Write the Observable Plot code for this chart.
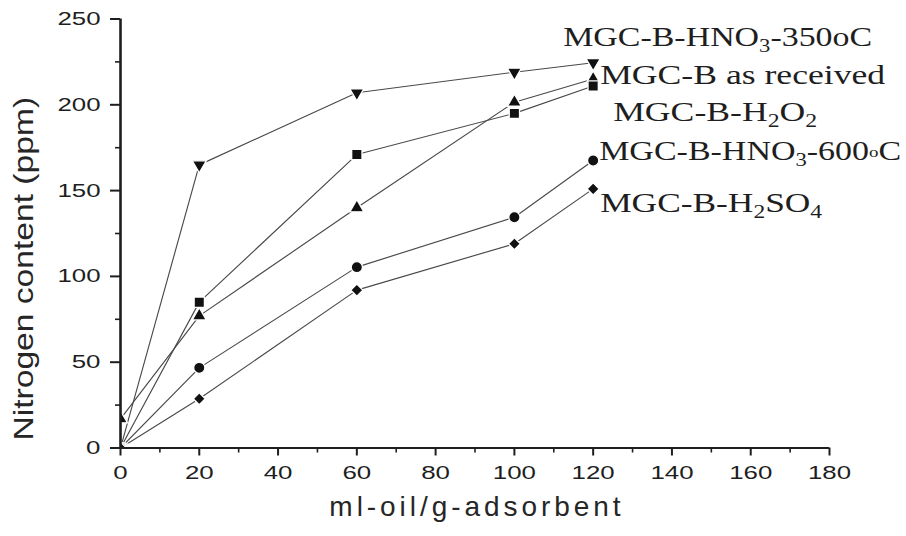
<!DOCTYPE html>
<html>
<head>
<meta charset="utf-8">
<script src="https://cdn.jsdelivr.net/npm/d3@7"></script>
<script src="https://cdn.jsdelivr.net/npm/@observablehq/plot@0.6"></script>
<style>
  html, body { margin: 0; padding: 0; background: #fff; }
  #chart { width: 906px; height: 536px; }
</style>
</head>
<body>
<div id="chart"></div>
<script>
// Nitrogen uptake versus oil loading for the MGC-B adsorbents
const xValues = [0, 20, 60, 100, 120];
const seriesNames = [
  "MGC-B-HNO₃-350oC",
  "MGC-B as received",
  "MGC-B-H₂O₂",
  "MGC-B-HNO₃-600∘C",
  "MGC-B-H₂SO₄"
];
const hno3_350 = [0, 165, 207, 219, 224.5];
const asReceived = [17, 77, 140, 201.5, 215];
const h2o2 = [0, 85, 171, 195, 211];
const hno3_600 = [0, 46.7, 105.4, 134.5, 167.5];
const h2so4 = [0, 28.7, 92, 119, 151];

const xTicks = [0, 20, 40, 60, 80, 100, 120, 140, 160, 180];
const xMinorTicks = [10, 30, 50, 70, 90, 110, 130, 150, 170];
const yTicks = [0, 50, 100, 150, 200, 250];
const yMinorTicks = [25, 75, 125, 175, 225];

const xTitle = "ml-oil/g-adsorbent";
const yTitle = "Nitrogen content (ppm)";

// Styling: marker shapes, label placement (pixel offsets from each series' last point) and label widths
const markerStyles = [
  {symbol: "triangle", rotate: 180, r: 5.2},
  {symbol: "triangle", rotate: 0, r: 5.2},
  {symbol: "square", rotate: 0, r: 5.8},
  {symbol: "circle", rotate: 0, r: 5.6},
  {symbol: "diamond2", rotate: 0, r: 5.4}
];
const labelStyles = [
  {dx: -30, dy: -25, width: 309},
  {dx: 7, dy: -4, width: 285},
  {dx: 20, dy: 26, width: 204},
  {dx: 6, dy: -9, width: 302},
  {dx: 7, dy: 14, width: 222}
];

const seriesValues = [hno3_350, asReceived, h2o2, hno3_600, h2so4];
const rows = seriesValues.flatMap((vals, i) =>
  xValues.map((x, j) => ({series: seriesNames[i], x, y: vals[j]}))
);
const ink = "#1e1e1e";

const marks = [
  Plot.line(rows, {x: "x", y: "y", z: "series", stroke: "#4a4a4a", strokeWidth: 1.15, clip: true}),
  ...seriesNames.map((name, i) =>
    Plot.dot(rows.filter(d => d.series === name), {
      x: "x", y: "y",
      symbol: markerStyles[i].symbol,
      rotate: markerStyles[i].rotate,
      r: markerStyles[i].r,
      fill: "#111", stroke: "#fff", strokeWidth: 1.3,
      clip: true
    })
  ),
  // minor ticks
  Plot.axisX(xMinorTicks, {tickSize: 5, strokeWidth: 1.6, stroke: ink, fill: "none", label: null}),
  Plot.axisY(yMinorTicks, {tickSize: 5, strokeWidth: 1.6, stroke: ink, fill: "none", label: null}),
  // major ticks with labels
  Plot.axisX(xTicks, {
    tickSize: 8, tickPadding: 9, strokeWidth: 2, stroke: ink, fill: ink,
    fontSize: 19, fontFamily: "Liberation Sans", label: null
  }),
  Plot.axisY(yTicks, {
    tickSize: 10, tickPadding: 10, strokeWidth: 2, stroke: ink, fill: ink,
    fontSize: 19, fontFamily: "Liberation Sans", label: null
  }),
  // axis lines
  Plot.ruleY([0], {stroke: ink, strokeWidth: 2}),
  Plot.ruleX([0], {stroke: ink, strokeWidth: 2.6}),
  // series labels next to the last points
  ...seriesNames.map((name, i) =>
    Plot.text(rows.filter(d => d.series === name && d.x === xValues[xValues.length - 1]), {
      x: "x", y: "y", text: "series",
      textAnchor: "start",
      dx: labelStyles[i].dx, dy: labelStyles[i].dy,
      fontSize: 27, fontFamily: "Liberation Serif", fill: ink,
      ariaDescription: "series labels"
    })
  ),
  // axis titles
  Plot.text([xTitle], {
    frameAnchor: "bottom", dy: 68, fontSize: 28, fontFamily: "Liberation Sans",
    fill: "#262626", ariaDescription: "x title"
  }),
  Plot.text([yTitle], {
    frameAnchor: "left", rotate: -90, textAnchor: "start", dx: -96, dy: 207, fontSize: 28,
    fontFamily: "Liberation Sans", fill: "#262626", ariaDescription: "y title"
  })
];

const chart = Plot.plot({
  width: 906,
  height: 536,
  marginLeft: 120,
  marginRight: 77,
  marginTop: 18.5,
  marginBottom: 88.5,
  x: {domain: [0, 180]},
  y: {domain: [0, 250]},
  style: {background: "#fff", fontFamily: "Liberation Sans", overflow: "visible"},
  marks
});
document.getElementById("chart").append(chart);

// Chemical formulas: subscript digits become lowered, smaller tspans; the degree ring becomes a small "o"
const subMap = {"₀": "0", "₁": "1", "₂": "2", "₃": "3", "₄": "4", "₅": "5", "₆": "6", "₇": "7", "₈": "8", "₉": "9"};
const runStyle = {
  sub: {size: 18, shift: 6},
  ring: {size: 15, shift: -3}
};
chart.querySelectorAll('g[aria-description="series labels"] text').forEach(t => {
  const str = t.textContent;
  const runs = [];
  for (const ch of str) {
    const kind = ch in subMap ? "sub" : ch === "∘" ? "ring" : "normal";
    const out = kind === "sub" ? subMap[ch] : kind === "ring" ? "o" : ch;
    const last = runs[runs.length - 1];
    if (last && last.kind === kind) last.text += out;
    else runs.push({kind, text: out});
  }
  t.textContent = "";
  let offset = 0;
  runs.forEach(run => {
    const ts = document.createElementNS("http://www.w3.org/2000/svg", "tspan");
    ts.textContent = run.text;
    const st = runStyle[run.kind];
    const target = st ? st.shift : 0;
    if (st) ts.setAttribute("font-size", st.size);
    if (target !== offset) ts.setAttribute("dy", target - offset);
    offset = target;
    t.appendChild(ts);
  });
});

// Widen the lettering horizontally (lengths measured after fonts are laid out)
function widen(selector, factor, adjust = "spacingAndGlyphs") {
  chart.querySelectorAll(selector).forEach(t => {
    const len = t.getComputedTextLength();
    if (len > 0) {
      t.setAttribute("textLength", (len * factor).toFixed(1));
      t.setAttribute("lengthAdjust", adjust);
    }
  });
}
widen('g[aria-label="x-axis tick label"] text', 1.36);
widen('g[aria-label="y-axis tick label"] text', 1.36);
widen('g[aria-description="x title"] text', 1.3, "spacing");
widen('g[aria-description="y title"] text', 1.2);
chart.querySelectorAll('g[aria-description="series labels"] text').forEach((t, i) => {
  t.setAttribute("textLength", labelStyles[i].width);
  t.setAttribute("lengthAdjust", "spacingAndGlyphs");
});
</script>
</body>
</html>
